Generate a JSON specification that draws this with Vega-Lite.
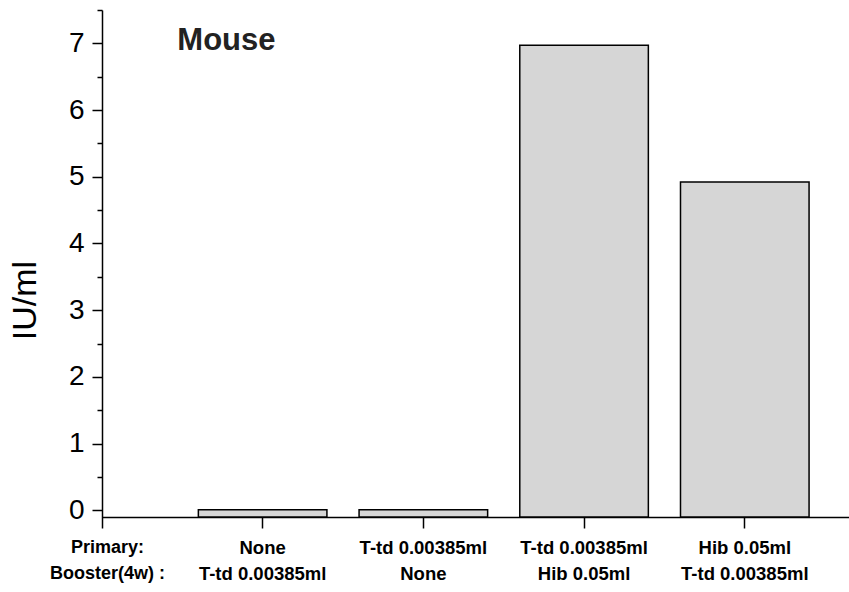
{
  "$schema": "https://vega.github.io/schema/vega-lite/v6.json",
  "width": 747,
  "height": 518,
  "autosize": {"type": "none"},
  "padding": {"left": 102, "top": 10, "right": 0, "bottom": 64},
  "background": "white",
  "config": {
    "view": {"stroke": null},
    "font": "Liberation Sans"
  },
  "datasets": {
    "bars": [
      {"group": "None|T-td 0.00385ml", "value": 0.01},
      {"group": "T-td 0.00385ml|None", "value": 0.01},
      {"group": "T-td 0.00385ml|Hib 0.05ml", "value": 6.97},
      {"group": "Hib 0.05ml|T-td 0.00385ml", "value": 4.92}
    ],
    "note": [
      {"group": "None|T-td 0.00385ml", "value": 6.9, "label": "Mouse"}
    ]
  },
  "resolve": {"axis": {"y": "independent"}},
  "layer": [
    {
      "data": {"name": "bars"},
      "mark": {"type": "bar", "fill": "#d6d6d6", "stroke": "black", "strokeWidth": 1.5},
      "encoding": {
        "x": {
          "field": "group",
          "type": "nominal",
          "sort": null,
          "scale": {"paddingInner": 0.2, "paddingOuter": 0.424, "align": 0.707},
          "axis": {
            "offset": -11,
            "title": ["Primary:", "Booster(4w) :"],
            "titleX": 5,
            "titleY": 21,
            "titleAlign": "center",
            "titleBaseline": "top",
            "titleAnchor": null,
            "titleFont": "Liberation Sans",
            "titleFontSize": 18,
            "titleFontWeight": "bold",
            "titleLineHeight": 26,
            "titleColor": "black",
            "labelExpr": "split(datum.label, '|')",
            "labelAngle": 0,
            "labelFontSize": 18.5,
            "labelFontWeight": "bold",
            "labelColor": "black",
            "labelLineHeight": 26,
            "labelBaseline": "top",
            "labelPadding": 10,
            "labelFont": "Liberation Sans",
            "tickSize": 11,
            "tickWidth": 1.5,
            "tickColor": "black",
            "domainColor": "black",
            "domainWidth": 1.5
          }
        },
        "y": {
          "field": "value",
          "type": "quantitative",
          "scale": {"domain": [-0.265, 7.5], "nice": false, "zero": false},
          "axis": {
            "orient": "left",
            "title": "IU/ml",
            "titleX": -77,
            "titleY": 290,
            "titleAngle": -90,
            "titleAlign": "center",
            "titleBaseline": "middle",
            "titleFontSize": 34,
            "titleFontWeight": "normal",
            "titleColor": "black",
            "titleAnchor": null,
            "values": [0, 1, 2, 3, 4, 5, 6, 7],
            "format": "d",
            "labelFontSize": 28,
            "labelColor": "black",
            "labelPadding": 8,
            "tickSize": 10,
            "tickWidth": 1.5,
            "tickColor": "black",
            "domainColor": "black",
            "domainWidth": 1.5,
            "grid": false
          }
        },
        "y2": {"datum": -0.1}
      }
    },
    {
      "data": {"name": "note"},
      "mark": {"type": "text", "align": "left", "baseline": "alphabetic", "fontSize": 31, "fontWeight": "bold", "color": "#222", "dx": -21},
      "encoding": {
        "x": {"field": "group", "type": "nominal", "sort": null, "bandPosition": 0},
        "y": {
          "field": "value",
          "type": "quantitative",
          "axis": {
            "orient": "left",
            "title": null,
            "values": [0.5, 1.5, 2.5, 3.5, 4.5, 5.5, 6.5, 7.5],
            "labels": false,
            "domain": false,
            "grid": false,
            "tickSize": 5,
            "tickWidth": 1.5,
            "tickColor": "black",
            "offset": 0
          }
        },
        "text": {"field": "label"}
      }
    }
  ]
}
